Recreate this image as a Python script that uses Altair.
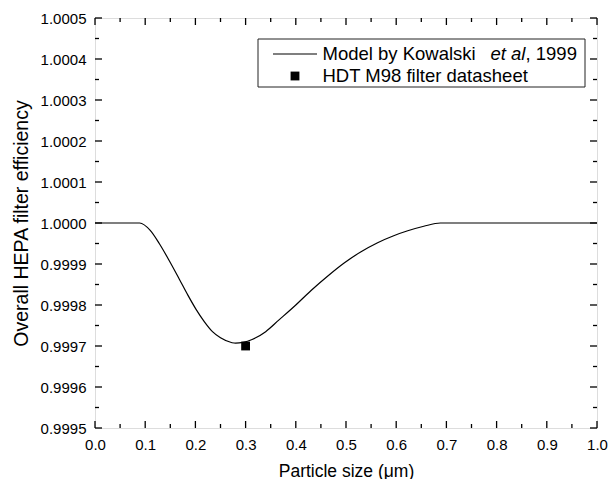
import altair as alt
import pandas as pd

# Model curve
size_um = [0.0, 0.05, 0.089, 0.11, 0.128, 0.148, 0.168, 0.185, 0.201, 0.218, 0.234, 0.25,
           0.273, 0.28, 0.295, 0.313, 0.34, 0.366, 0.40, 0.431, 0.465, 0.497, 0.53, 0.563,
           0.595, 0.623, 0.655, 0.688, 0.75, 0.85, 1.0]
efficiency = [1.0, 1.0, 1.0, 0.999982, 0.99995, 0.999908, 0.999863, 0.999824, 0.99979, 0.999759,
              0.999735, 0.99972, 0.999708, 0.999707, 0.999709, 0.999716, 0.999735, 0.999763,
              0.9998, 0.999836, 0.999872, 0.999903, 0.99993, 0.999952, 0.999969, 0.999981,
              0.999992, 1.0, 1.0, 1.0, 1.0]

# Datasheet point
sheet_size = [0.3]
sheet_eff = [0.9997]

# Tick positions
x_major = [0.0, 0.1, 0.2, 0.3, 0.4, 0.5, 0.6, 0.7, 0.8, 0.9, 1.0]
x_minor = [0.05, 0.15, 0.25, 0.35, 0.45, 0.55, 0.65, 0.75, 0.85, 0.95]
y_major = [0.9995, 0.9996, 0.9997, 0.9998, 0.9999, 1.0, 1.0001, 1.0002, 1.0003, 1.0004, 1.0005]
y_minor = [0.99955, 0.99965, 0.99975, 0.99985, 0.99995, 1.00005, 1.00015, 1.00025, 1.00035, 1.00045]

legend_line = "Model by Kowalski"
legend_italic = "et al"
legend_year = ", 1999"
legend_point = "HDT M98 filter datasheet"

W, H = 502, 410
FONT = "Liberation Sans"

xs = alt.Scale(domain=[0, 1.0], nice=False, zero=False)
ys = alt.Scale(domain=[0.9995, 1.0005], nice=False, zero=False)

x_axis = alt.Axis(
    values=x_major, format=".1f", title="Particle size (μm)", ticks=False, domain=False,
    grid=False, labelPadding=9, titlePadding=10, labelFontSize=15, titleFontSize=17.5,
    labelFont=FONT, titleFont=FONT, labelColor="black", titleColor="black",
    titleFontWeight="normal", labelFlush=False)
y_axis = alt.Axis(
    values=y_major, format=".4f", title="Overall HEPA filter efficiency", ticks=False,
    domain=False, grid=False, labelPadding=9, titlePadding=9, labelFontSize=15,
    titleFontSize=19.5, labelFont=FONT, titleFont=FONT, labelColor="black",
    titleColor="black", titleFontWeight="normal", labelFlush=False)

def X():
    return alt.X("x:Q", scale=xs, axis=x_axis, title="Particle size (μm)")

def Y():
    return alt.Y("y:Q", scale=ys, axis=y_axis, title="Overall HEPA filter efficiency")

curve = pd.DataFrame({"x": size_um, "y": efficiency})
point = pd.DataFrame({"x": sheet_size, "y": sheet_eff})

line = alt.Chart(curve).mark_line(color="black", strokeWidth=1.2, interpolate="monotone").encode(
    x=X(), y=Y())

pts = alt.Chart(point).mark_square(color="black", size=78, opacity=1).encode(x=X(), y=Y())

def xticks(vals, length):
    d = pd.DataFrame({"x": vals})
    b = alt.Chart(d).mark_rule(color="black", strokeWidth=1.3).encode(
        x=X(), y=alt.value(H), y2=alt.value(H - length))
    t = alt.Chart(d).mark_rule(color="black", strokeWidth=1.3).encode(
        x=X(), y=alt.value(0), y2=alt.value(length))
    return [b, t]

def yticks(vals, length):
    d = pd.DataFrame({"y": vals})
    l = alt.Chart(d).mark_rule(color="black", strokeWidth=1.3).encode(
        y=Y(), x=alt.value(0), x2=alt.value(length))
    r = alt.Chart(d).mark_rule(color="black", strokeWidth=1.3).encode(
        y=Y(), x=alt.value(W), x2=alt.value(W - length))
    return [l, r]

ticks = xticks(x_major, 7) + xticks(x_minor, 4) + yticks(y_major, 7) + yticks(y_minor, 4)

# Legend (manual, to allow italic "et al")
leg_df = pd.DataFrame({"a": [0]})
box = alt.Chart(leg_df).mark_rect(fillOpacity=0, stroke="#222", strokeWidth=1).encode(
    x=alt.value(163), x2=alt.value(490), y=alt.value(21), y2=alt.value(69))
sample = alt.Chart(leg_df).mark_rule(color="black", strokeWidth=1.2).encode(
    x=alt.value(178), x2=alt.value(222), y=alt.value(36))
sq = alt.Chart(leg_df).mark_square(color="black", size=78, opacity=1).encode(
    x=alt.value(200), y=alt.value(58))
t_style = dict(align="left", baseline="middle", font=FONT, fontSize=18.5, color="black")
t1 = alt.Chart(leg_df).mark_text(text=legend_line, **t_style).encode(
    x=alt.value(227.5), y=alt.value(36))
t2 = alt.Chart(leg_df).mark_text(text=legend_italic, fontStyle="italic", **t_style).encode(
    x=alt.value(395.5), y=alt.value(36))
t3 = alt.Chart(leg_df).mark_text(text=legend_year, **t_style).encode(
    x=alt.value(430.5), y=alt.value(36))
t4 = alt.Chart(leg_df).mark_text(text=legend_point, **t_style).encode(
    x=alt.value(227.5), y=alt.value(58))

chart = alt.layer(line, pts, *ticks, box, sample, sq, t1, t2, t3, t4).properties(
    width=W, height=H,
    autosize=alt.AutoSizeParams(type="none"),
    padding={"left": 87, "top": 10, "right": 11, "bottom": 51},
).configure_view(stroke="black", strokeWidth=1.5).configure(background="white")

chart.save("out.html", embed_options={"renderer": "svg", "actions": False})
